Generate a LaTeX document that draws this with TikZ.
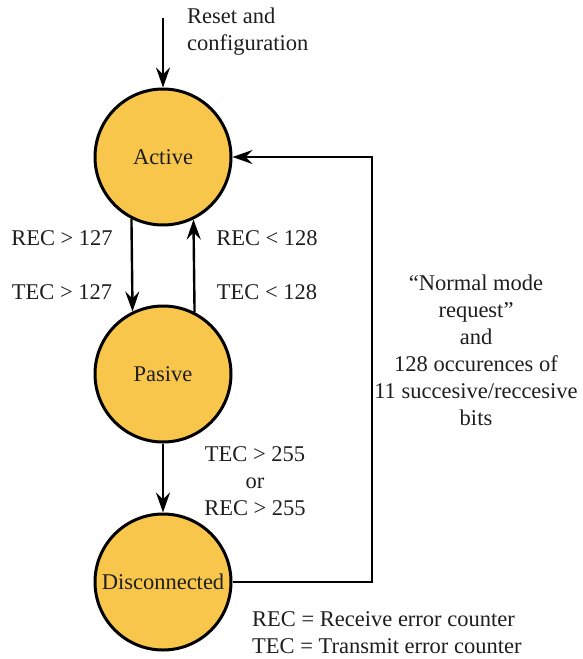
\documentclass[tikz,border=0pt]{standalone}
\usepackage{fontspec}
\setmainfont{Liberation Serif}[Ligatures=TeX]
\usetikzlibrary{arrows.meta}
\definecolor{stfill}{RGB}{249,198,76}
\definecolor{txt}{RGB}{30,30,30}
\tikzset{
  state/.style={circle,draw=black,line width=3pt,fill=stfill,minimum size=136pt,inner sep=0pt,text=txt,font=\fontsize{22.5}{27}\selectfont},
  lbl/.style={align=center,inner sep=0pt,text=txt,font=\fontsize{22.5}{27}\selectfont},
  arr/.style={line width=2.4pt,-{Stealth[length=20pt,width=14pt,inset=7pt]}}
}
\begin{document}
\begin{tikzpicture}[x=1pt,y=-1pt]
\useasboundingbox (0,0) rectangle (583,659);
\node[state] (act) at (163,157) {Active};
\node[state] (pas) at (163,374) {Pasive};
\node[state] (dis) at (163,582) {Disconnected};
\coordinate (start) at (163,18);
\coordinate (loop) at (372,157);
\node[lbl,align=left,anchor=north west] (reset) at (187,8) {Reset and\\configuration};
\node[lbl] (l1) at (62,238) {REC > 127};
\node[lbl] (l2) at (62,292) {TEC > 127};
\node[lbl] (l3) at (267,238) {REC < 128};
\node[lbl] (l4) at (267,292) {TEC < 128};
\node[lbl] (l5) at (255,481) {TEC > 255\\or\\REC > 255};
\node[lbl] (l6) at (476,350) {“Normal mode\\request”\\and\\128 occurences of\\11 succesive/reccesive\\bits};
\node[lbl,align=left,anchor=west] (leg) at (252,633) {REC = Receive error counter\\TEC = Transmit error counter};
\draw[arr] (start) -- (act.north);
\draw[arr] (act.243.8) -- (pas.116.2);
\draw[arr] (pas.63.8) -- (act.296.2);
\draw[arr] (pas.south) -- (dis.north);
\draw[arr] (dis.east) -| (loop) -- (act.east);
\end{tikzpicture}
\end{document}
